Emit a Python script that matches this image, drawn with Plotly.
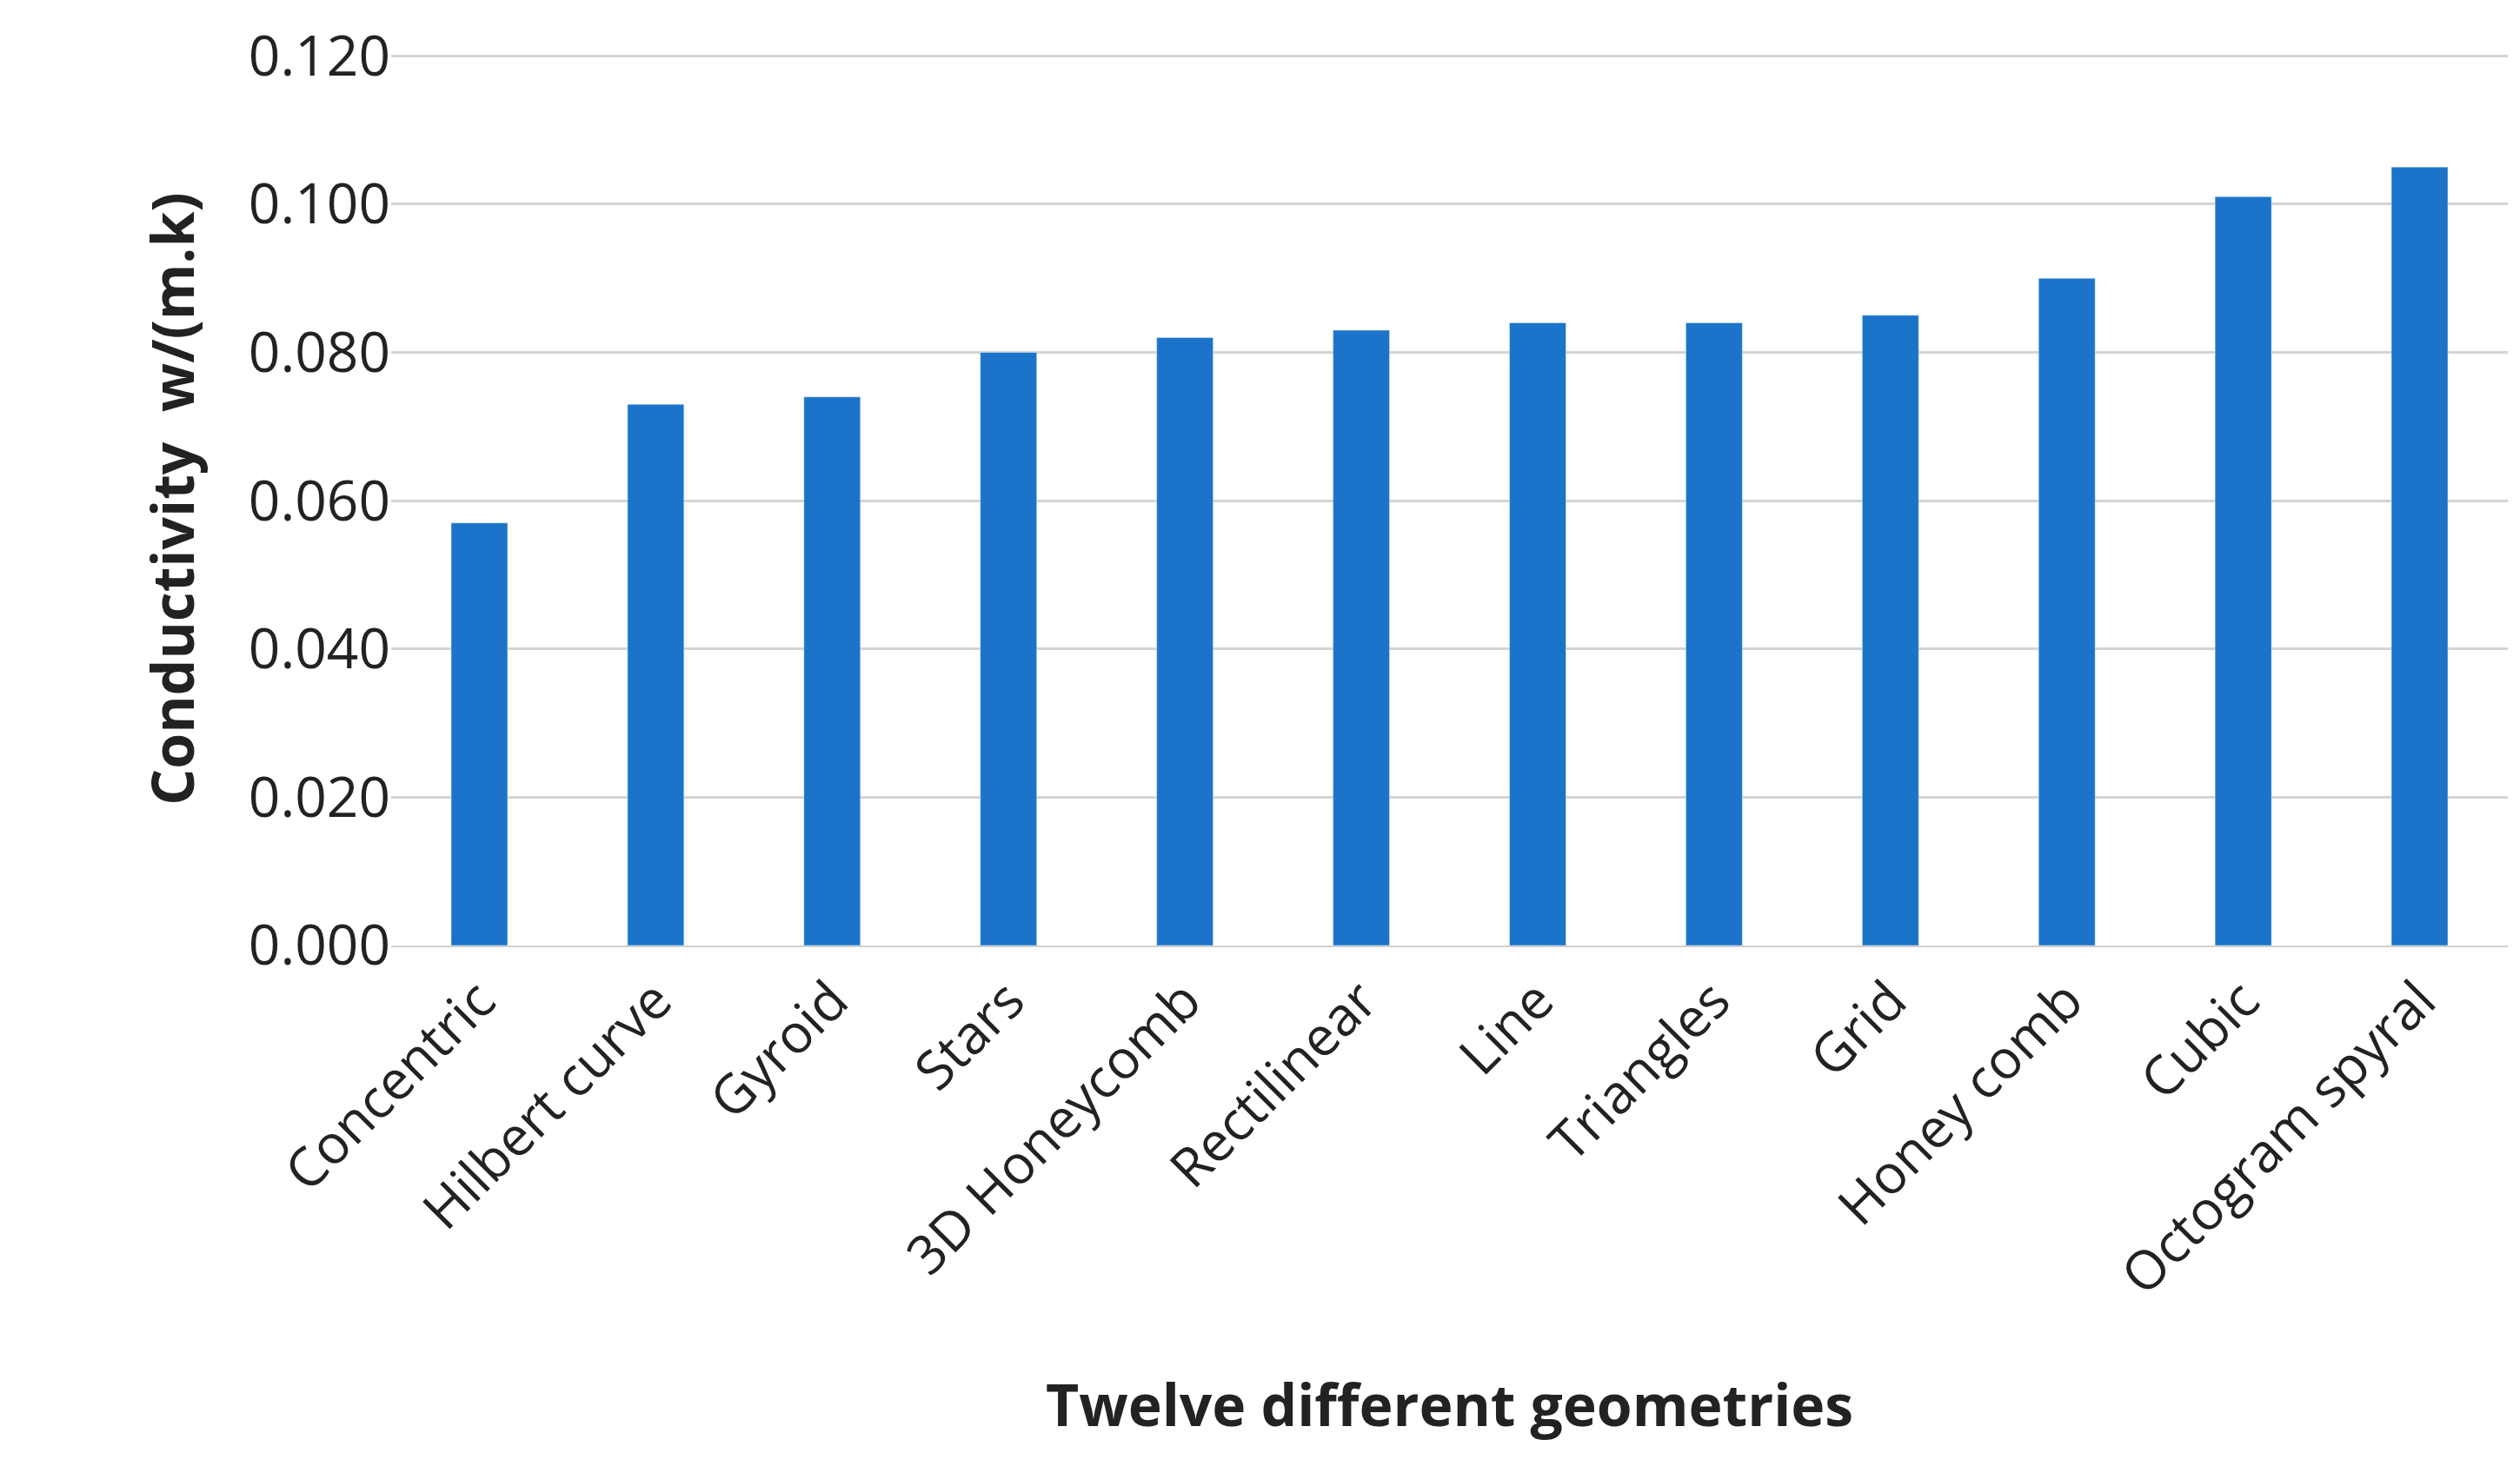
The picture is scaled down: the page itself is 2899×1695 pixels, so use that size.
import plotly.graph_objects as go

categories = ["Concentric", "Hilbert curve", "Gyroid", "Stars", "3D Honeycomb", "Rectilinear",
              "Line", "Triangles", "Grid", "Honey comb", "Cubic", "Octogram spyral"]
values = [0.057, 0.073, 0.074, 0.080, 0.082, 0.083, 0.084, 0.084, 0.085, 0.090, 0.101, 0.105]
y_ticks = [0, 0.02, 0.04, 0.06, 0.08, 0.10, 0.12]

fig = go.Figure(go.Bar(x=categories, y=values, marker_color="#1b74c9", width=0.32))
fig.update_layout(
    width=2899, height=1695, paper_bgcolor="white", plot_bgcolor="white",
    margin=dict(l=442, r=22, t=52, b=615),
    font=dict(family="Open Sans", size=62, color="#222"),
    showlegend=False,
)
fig.update_xaxes(tickangle=-45, showline=True, linecolor="#d0d0d0", linewidth=2, ticks="",
                 title=dict(text="<b>Twelve different geometries</b>", font=dict(size=66), standoff=90),
                 tickfont=dict(size=62))
fig.update_yaxes(range=[0, 0.1205], tickvals=y_ticks, tickformat=".3f", showgrid=True,
                 gridcolor="#d4d4d4", gridwidth=3, zeroline=False,
                 title=dict(text="<b>Conductivity  w/(m.k)</b>", font=dict(size=66), standoff=40),
                 tickfont=dict(size=64))
fig.write_html("out.html")
